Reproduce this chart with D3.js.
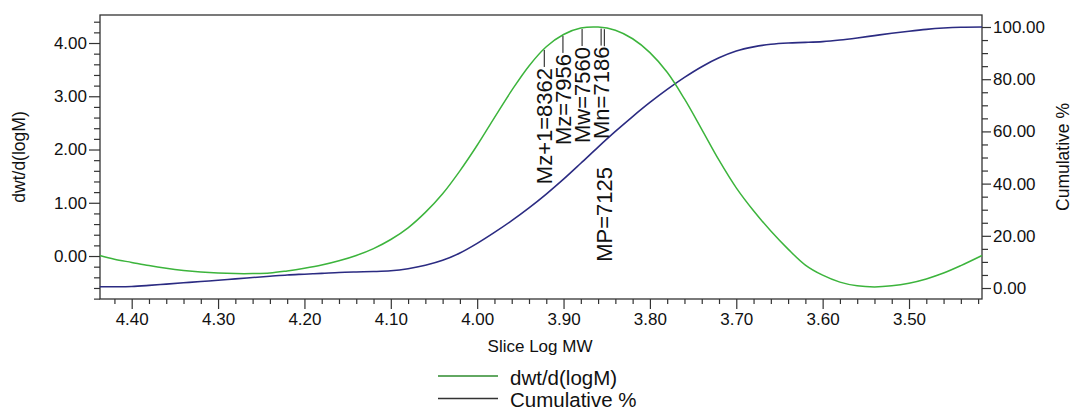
<!DOCTYPE html>
<html>
<head>
<meta charset="utf-8">
<script src="https://cdn.jsdelivr.net/npm/d3@7"></script>
<style>
  html, body { margin: 0; padding: 0; background: #fff; }
  svg { display: block; font-family: "Liberation Sans", Arial, sans-serif; }
</style>
</head>
<body>
<svg id="chart" width="1073" height="414"></svg>
<script>
// ---------- data ----------
const logMW = [4.437, 4.42, 4.40, 4.38, 4.36, 4.34, 4.32, 4.30, 4.28, 4.26, 4.24, 4.22, 4.20, 4.18, 4.16, 4.14, 4.12, 4.10, 4.08, 4.06, 4.04, 4.02, 4.00, 3.98, 3.96, 3.94, 3.92, 3.90, 3.88, 3.86, 3.84, 3.82, 3.80, 3.78, 3.76, 3.74, 3.72, 3.70, 3.68, 3.66, 3.64, 3.62, 3.60, 3.58, 3.56, 3.54, 3.52, 3.50, 3.48, 3.46, 3.44, 3.4155];
const dwtValues = [0.01, -0.06, -0.12, -0.18, -0.23, -0.27, -0.30, -0.32, -0.33, -0.33, -0.32, -0.28, -0.23, -0.17, -0.09, 0.01, 0.14, 0.31, 0.53, 0.82, 1.17, 1.60, 2.08, 2.60, 3.11, 3.57, 3.93, 4.16, 4.28, 4.30, 4.24, 4.08, 3.82, 3.45, 2.95, 2.38, 1.80, 1.28, 0.85, 0.47, 0.13, -0.17, -0.36, -0.49, -0.56, -0.58, -0.56, -0.51, -0.43, -0.32, -0.18, 0.01];
const cumValues = [0.5, 0.5, 0.6, 1.0, 1.5, 2.0, 2.5, 2.95, 3.5, 4.0, 4.5, 5.0, 5.3, 5.6, 5.95, 6.15, 6.3, 6.6, 7.4, 8.7, 10.6, 13.4, 17.1, 21.3, 25.8, 30.7, 36.0, 41.7, 47.8, 54.0, 60.0, 65.7, 71.1, 76.1, 80.7, 84.8, 88.2, 90.8, 92.4, 93.4, 93.9, 94.1, 94.4, 95.0, 95.8, 96.7, 97.6, 98.4, 99.1, 99.6, 99.9, 100.0];

const labelNames = ["Mz+1", "Mz", "Mw", "Mn", "MP"];
const labelMW = [8362, 7956, 7560, 7186, 7125];

const xTicks = [4.40, 4.30, 4.20, 4.10, 4.00, 3.90, 3.80, 3.70, 3.60, 3.50];
const yLeftTicks = [0, 1, 2, 3, 4];
const yRightTicks = [0, 20, 40, 60, 80, 100];
const xDomain = [4.4367, 3.4155];
const yLeftDomain = [-0.807, 4.526];
const yRightDomain = [-4.21, 104.6];

const seriesNames = ["dwt/d(logM)", "Cumulative %"];

// ---------- layout ----------
const L = 100, R = 982, T = 15, B = 299;
const svg = d3.select("#chart");
const green = "#3cb43c", navy = "#2b2b82", axisCol = "#333";
const tickFont = "17px";

const x = d3.scaleLinear().domain(xDomain).range([L, R]);
const yL = d3.scaleLinear().domain(yLeftDomain).range([B, T]);
const yR = d3.scaleLinear().domain(yRightDomain).range([B, T]);

const xMinor = d3.range(4.42, 3.419, -0.02).map(v => +v.toFixed(2)).filter(v => xTicks.every(t => Math.abs(t - v) > 1e-6));
const yLMinor = d3.range(-0.8, 4.41, 0.2).map(v => +v.toFixed(1)).filter(v => yLeftTicks.every(t => Math.abs(t - v) > 1e-6));
const yRMinor = d3.range(0, 100.1, 5).filter(v => yRightTicks.indexOf(v) < 0);

function styleAxis(g) {
  g.select(".domain").remove();
  g.selectAll("line").attr("stroke", axisCol).attr("stroke-width", 1.2);
  g.selectAll("text").attr("fill", "#111").style("font-size", tickFont).style("font-family", "Liberation Sans, Arial, sans-serif");
}

// bottom axis
svg.append("g").attr("transform", `translate(0,${B})`)
  .call(d3.axisBottom(x).tickValues(xMinor).tickSize(5).tickFormat(""))
  .call(styleAxis);
svg.append("g").attr("transform", `translate(0,${B})`)
  .call(d3.axisBottom(x).tickValues(xTicks).tickSize(10).tickPadding(4).tickFormat(d3.format(".2f")))
  .call(styleAxis);

// left axis
svg.append("g").attr("transform", `translate(${L},0)`)
  .call(d3.axisLeft(yL).tickValues(yLMinor).tickSize(6).tickFormat(""))
  .call(styleAxis);
svg.append("g").attr("transform", `translate(${L},0)`)
  .call(d3.axisLeft(yL).tickValues(yLeftTicks).tickSize(11).tickPadding(2).tickFormat(d3.format(".2f")))
  .call(styleAxis);

// right axis
svg.append("g").attr("transform", `translate(${R},0)`)
  .call(d3.axisRight(yR).tickValues(yRMinor).tickSize(6).tickFormat(""))
  .call(styleAxis);
svg.append("g").attr("transform", `translate(${R},0)`)
  .call(d3.axisRight(yR).tickValues(yRightTicks).tickSize(9).tickPadding(2).tickFormat(d3.format(".2f")))
  .call(styleAxis);

// frame
svg.append("rect").attr("x", L).attr("y", T).attr("width", R - L).attr("height", B - T)
  .attr("fill", "none").attr("stroke", axisCol).attr("stroke-width", 1.3);

// curves
const dwtData = logMW.map((m, i) => [m, dwtValues[i]]);
const cumData = logMW.map((m, i) => [m, cumValues[i]]);

svg.append("path").datum(cumData)
  .attr("fill", "none").attr("stroke", navy).attr("stroke-width", 1.6)
  .attr("d", d3.line().x(d => x(d[0])).y(d => yR(d[1])).curve(d3.curveCatmullRom.alpha(0.5)));
svg.append("path").datum(dwtData)
  .attr("fill", "none").attr("stroke", green).attr("stroke-width", 1.5)
  .attr("d", d3.line().x(d => x(d[0])).y(d => yL(d[1])).curve(d3.curveCatmullRom.alpha(0.5)));

// molecular weight labels
const dwtAt = d3.scaleLinear().domain(logMW).range(dwtValues);
const labG = svg.append("g");
let prevBottom = null, prevX = null;
labelNames.forEach((name, i) => {
  const lm = Math.log10(labelMW[i]);
  const px = x(lm);
  const cy = yL(dwtAt(lm));
  labG.append("line").attr("x1", px).attr("x2", px).attr("y1", cy + 1).attr("y2", cy + 18)
    .attr("stroke", "#111").attr("stroke-width", 1);
  let top = cy + 19;
  if (prevX !== null && Math.abs(px - prevX) < 12) top = prevBottom + 28;
  const t = labG.append("text")
    .attr("transform", `translate(${px},${top}) rotate(-90)`)
    .attr("text-anchor", "end").attr("dy", "0.35em")
    .style("font-size", "22px").attr("fill", "#111")
    .text(`${name}=${labelMW[i]}`);
  const len = t.node().getComputedTextLength();
  prevBottom = top + len; prevX = px;
});

// axis titles
svg.append("text").attr("transform", "translate(25,157) rotate(-90)")
  .attr("text-anchor", "middle").style("font-size", "17.5px").attr("fill", "#111").text("dwt/d(logM)");
svg.append("text").attr("transform", "translate(1069,157) rotate(-90)")
  .attr("text-anchor", "middle").style("font-size", "17.5px").attr("fill", "#111").text("Cumulative %");
svg.append("text").attr("x", 540).attr("y", 352)
  .attr("text-anchor", "middle").style("font-size", "17px").attr("fill", "#111").text("Slice Log MW");

// legend
const legColors = ["#2e8b2e", "#333"];
seriesNames.forEach((s, i) => {
  const ly = 376 + i * 22.5;
  svg.append("line").attr("x1", 438).attr("x2", 498).attr("y1", ly).attr("y2", ly)
    .attr("stroke", legColors[i]).attr("stroke-width", 1.6);
  svg.append("text").attr("x", 510).attr("y", ly + 8.5)
    .style("font-size", "20.5px").attr("fill", "#111").text(s);
});
</script>
</body>
</html>
